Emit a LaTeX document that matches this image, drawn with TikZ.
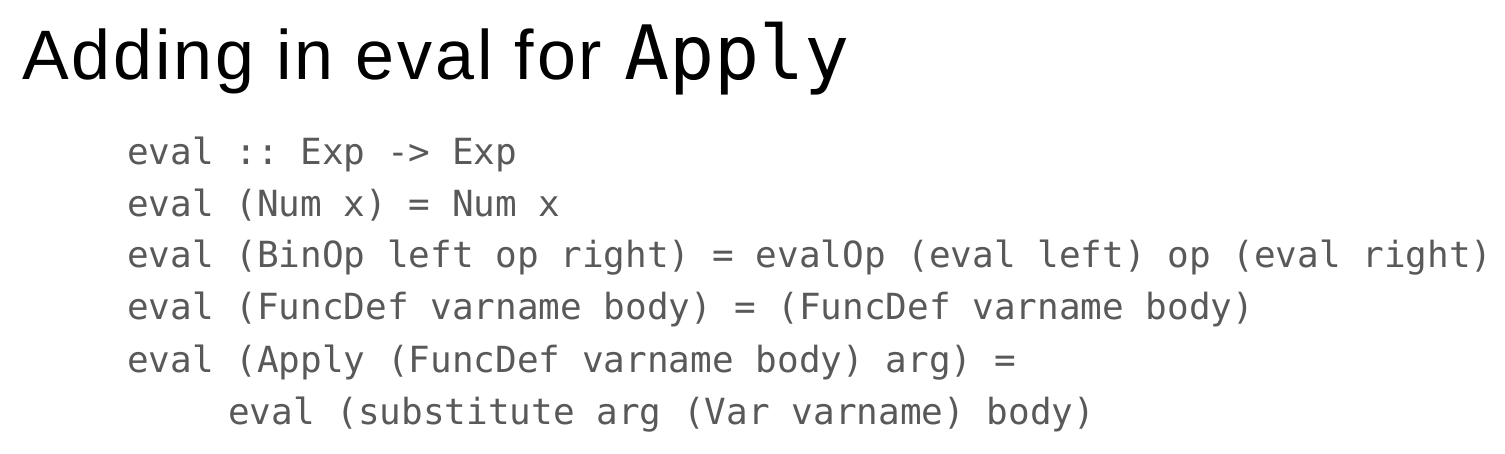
\documentclass[tikz,border=0pt]{standalone}
\usepackage{fontspec}
\setmainfont{Liberation Sans}
\setmonofont{DejaVu Sans Mono}
\definecolor{codegray}{HTML}{595959}
\begin{document}
\begin{tikzpicture}[x=1pt,y=-1pt,
  code/.style={anchor=base west,inner sep=0pt,text=codegray,font=\fontsize{36}{40}\selectfont\ttfamily}]
\useasboundingbox (0,0) rectangle (1505,454);
\node[anchor=base west,inner sep=0pt,font=\fontsize{70}{80}\selectfont] (title) at (22,80) {\addfontfeature{LetterSpace=4}Adding in eval for\hspace{22pt}{\fontsize{75}{80}\selectfont\ttfamily Apply}};
\node[code] (l1) at (127,165) {eval :: Exp -> Exp};
\node[code] (l2) at (127,217) {eval (Num x) = Num x};
\node[code] (l3) at (127,268) {eval (BinOp left op right) = evalOp (eval left) op (eval right)};
\node[code] (l4) at (127,320) {eval (FuncDef varname body) = (FuncDef varname body)};
\node[code] (l5) at (127,372) {eval (Apply (FuncDef varname body) arg) =};
\node[code] (l6) at (228,424) {eval (substitute arg (Var varname) body)};
\end{tikzpicture}
\end{document}
